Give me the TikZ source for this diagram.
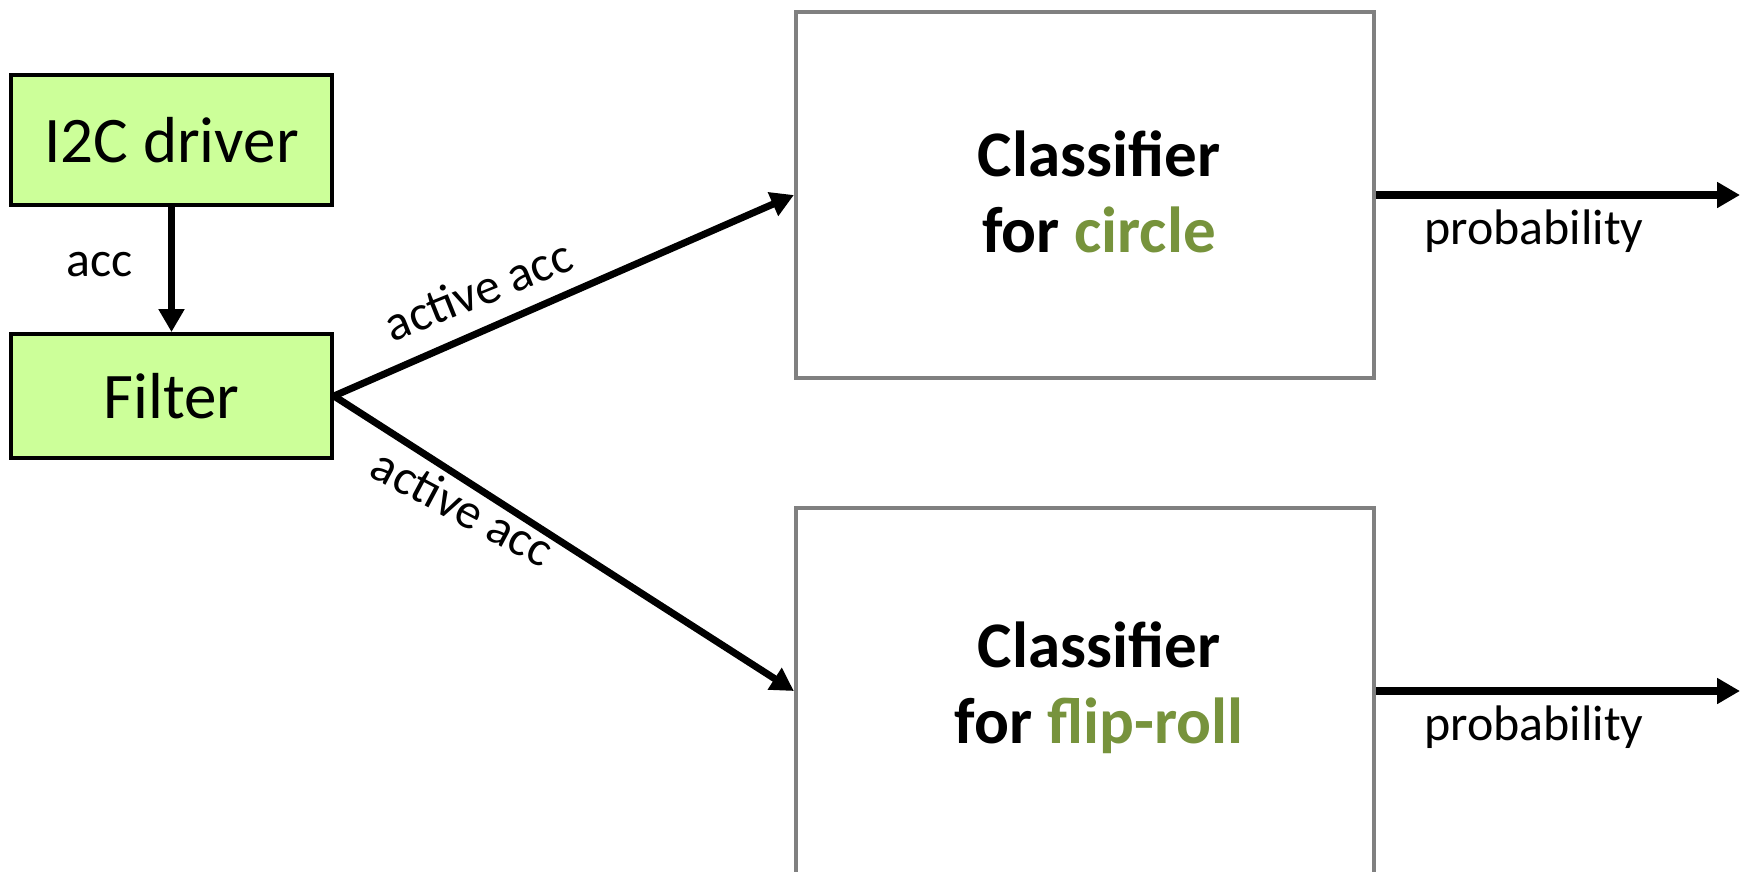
\documentclass[tikz,border=0pt]{standalone}
\usepackage{fontspec}
\setmainfont{Carlito}
\usetikzlibrary{arrows.meta}
\usetikzlibrary{calc}
\definecolor{stagegreen}{HTML}{CCFF99}
\definecolor{classgreen}{HTML}{77933C}
\definecolor{boxgray}{HTML}{808080}
\tikzstyle{stage}=[draw=black,line width=1.1pt,fill=stagegreen,rectangle,minimum width=321*0.01cm,font=\fontsize{18.5}{21}\selectfont]
\tikzstyle{classbox}=[draw=boxgray,line width=1.2pt,rectangle,minimum width=578*0.01cm,minimum height=366*0.01cm]
\tikzstyle{classtext}=[align=center,font=\fontsize{18.5}{21.5}\selectfont\bfseries]
\tikzstyle{flow}=[line width=2pt,-{Triangle[length=6.5pt,width=7pt]}]
\tikzstyle{lbl}=[font=\fontsize{14.2}{17}\selectfont]
\newcommand{\classifier}[3]{% Syntax: {name} {y of centre} {gesture}
	\node[classbox] (#1) at (1085,#2) {};
	\node[classtext] (#1text) at ($(#1.center)+(14,-3)$) {Classifier\\for \textcolor{classgreen}{#3}};
}
\begin{document}
\begin{tikzpicture}[x=0.01cm,y=-0.01cm]
	\useasboundingbox (0,0) rectangle (1744,872);
	% input chain
	\node[stage,minimum height=130*0.01cm] (driver) at (171.5,140) {I2C driver};
	\node[stage,minimum height=124*0.01cm] (filter) at (171.5,396) {Filter};
	\draw[flow] (driver) -- (filter);
	\node[lbl] (acclbl) at (100,265) {acc};
	% one classifier per gesture
	\classifier{circle}{195}{circle}
	\classifier{fliproll}{691}{flip-roll}
	\draw[flow] (filter.east) -- (circle.west);
	\draw[flow] (filter.east) -- (fliproll.west);
	\node[lbl,rotate=22] (actup) at (478,290) {active acc};
	\node[lbl,rotate=-28] (actdown) at (463,507) {active acc};
	%\node[lbl,rotate=-32.7] (actdown) at (463,507) {active acc};
	% outputs
	\coordinate (outup) at (1740,195);
	\coordinate (outdown) at (1740,691);
	\draw[flow] (circle.east) -- (outup);
	\draw[flow] (fliproll.east) -- (outdown);
	\node[lbl] (probup) at (1534,231) {probability};
	\node[lbl] (probdown) at (1534,727) {probability};
\end{tikzpicture}
\end{document}
